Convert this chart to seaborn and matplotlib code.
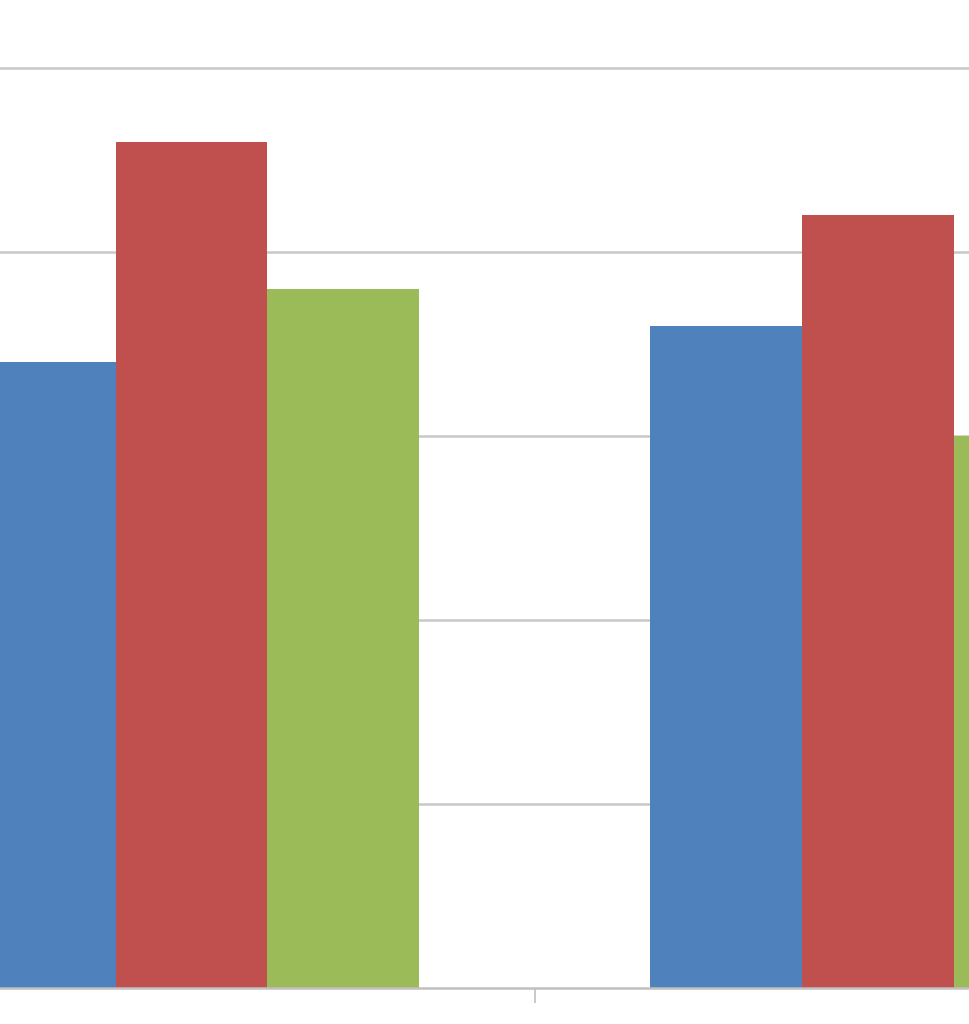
import matplotlib
matplotlib.use("Agg")
import matplotlib.pyplot as plt
import seaborn as sns
import pandas as pd

categories = ["A", "B"]
series = ["Series 1", "Series 2", "Series 3"]
values_s1 = [3.40, 3.60]
values_s2 = [4.60, 4.20]
values_s3 = [3.80, 3.00]
colors = ["#4F81BD", "#C0504D", "#9BBB59"]

rows = []
for s, vals in zip(series, [values_s1, values_s2, values_s3]):
    for c, v in zip(categories, vals):
        rows.append({"category": c, "series": s, "value": v})
df = pd.DataFrame(rows)

sns.set_style("white")
fig = plt.figure(figsize=(9.7, 10.24), dpi=100)
ax = fig.add_axes([0, 36 / 1024, 1, 988 / 1024])

sns.barplot(data=df, x="category", y="value", hue="series",
            order=categories, hue_order=series, palette=colors,
            saturation=1, width=0.664, gap=0, linewidth=0, ax=ax, legend=False)

ax.set_xlim(-191.5 / 686.5, (970 - 191.5) / 686.5)
ax.set_ylim(0, 988 / 184)
ax.set_yticks([1, 2, 3, 4, 5])
ax.yaxis.grid(True, color="#c8c8c8", linewidth=1.8)
ax.set_axisbelow(True)
for s in ["left", "right", "top"]:
    ax.spines[s].set_visible(False)
ax.spines["bottom"].set_color("#c0c0c0")
ax.spines["bottom"].set_linewidth(1.8)
ax.set_xticks([0.5])
ax.set_xticklabels([""])
ax.tick_params(axis="x", bottom=True, direction="out", length=11, width=1.2, color="#c0c0c0")
ax.tick_params(axis="y", length=0, labelleft=False)
ax.set_xlabel("")
ax.set_ylabel("")

fig.savefig("out.png", dpi=100)
